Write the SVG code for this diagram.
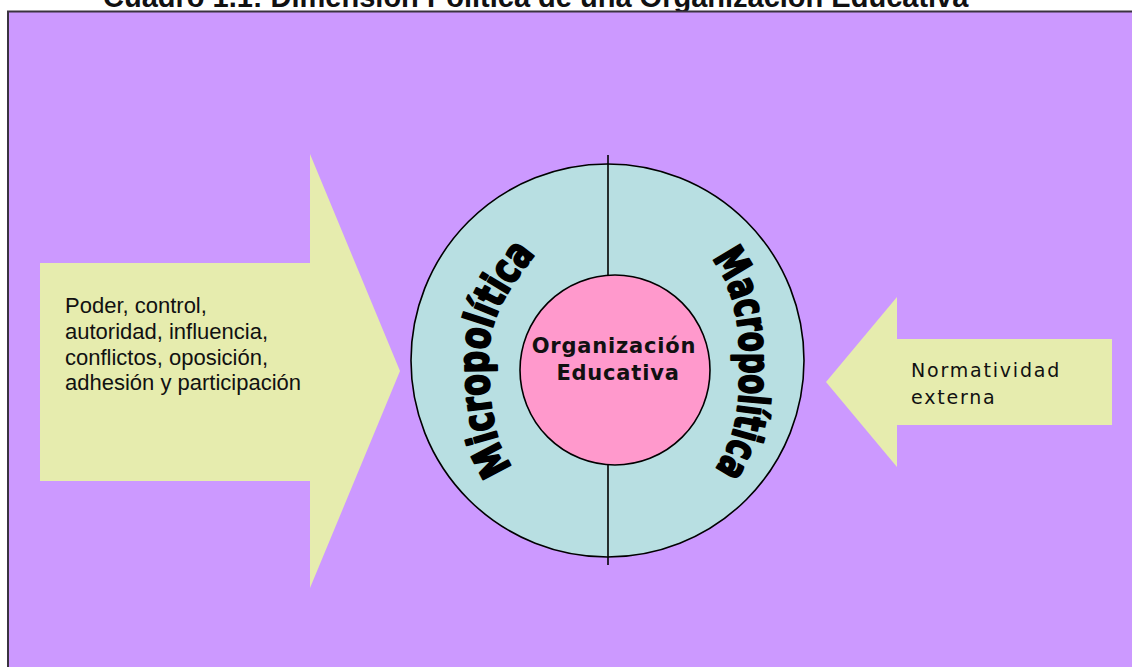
<svg xmlns="http://www.w3.org/2000/svg" width="1132" height="667" viewBox="0 0 1132 667">
  <style>
    .panel { fill: #CC99FF; stroke: #3a3340; stroke-width: 2; }
    .arrow { fill: #E6ECAE; stroke: none; }
    .ring { fill: #B8DFE2; stroke: #000; stroke-width: 1.6; }
    .core { fill: #FF99CC; stroke: #000; stroke-width: 1.6; }
    .divider { stroke: #000; stroke-width: 1.6; fill: none; }
    .title { font-family: "Liberation Sans", Arial, sans-serif; font-weight: bold; font-size: 29px; fill: #111; }
    .body { font-family: "Liberation Sans", Arial, sans-serif; font-size: 22px; fill: #111; }
    .verd { font-family: "DejaVu Sans", Verdana, sans-serif; font-size: 19px; letter-spacing: 1.8px; fill: #111; }
    .core-label { font-family: "DejaVu Sans", Verdana, sans-serif; font-weight: bold; font-size: 21px; letter-spacing: 0.8px; fill: #111; text-anchor: middle; }
    .arc-label { font-family: "DejaVu Sans", Verdana, sans-serif; font-weight: bold; font-size: 42px; fill: #000; stroke: #000; stroke-width: 2.2; stroke-linejoin: round; }
  </style>
  <defs>
    <!-- baselines of the two curved labels, glyph tops facing outward -->
    <path id="arcMicro" d="M513.5,466.5 C492.5,445.5 488,392 488,357 C488,317 512.4,281.8 538,251"/>
    <path id="arcMacro" d="M711.5,258.3 C733.5,285.6 740,322 740,364 C740,406 736,442 714,471"/>
  </defs>

  <rect width="1132" height="667" fill="#FFFFFF"/>
  <text class="title" x="103" y="7">Cuadro 1.1: Dimensión Política de una Organización Educativa</text>

  <rect id="panel" class="panel" x="8" y="11.5" width="1140" height="670"/>

  <g id="arrow-micro">
    <polygon class="arrow" points="40,263 310,263 310,154 400,371 310,588 310,481 40,481"/>
    <text class="body">
      <tspan x="65" y="313">Poder, control,</tspan>
      <tspan x="65" y="339">autoridad, influencia,</tspan>
      <tspan x="65" y="365">conflictos, oposición,</tspan>
      <tspan x="65" y="390">adhesión y participación</tspan>
    </text>
  </g>

  <g id="arrow-macro">
    <polygon class="arrow" points="826,382 897,297 897,339 1112,339 1112,425 897,425 897,467"/>
    <text class="verd">
      <tspan x="911" y="377">Normatividad</tspan>
      <tspan x="911" y="404">externa</tspan>
    </text>
  </g>

  <g id="ring">
    <circle class="ring" cx="607.5" cy="360.5" r="196.5"/>
    <line class="divider" x1="608" y1="155" x2="608" y2="565"/>
    <text class="arc-label"><textPath href="#arcMicro" textLength="230" lengthAdjust="spacingAndGlyphs">Micropolítica</textPath></text>
    <text class="arc-label"><textPath href="#arcMacro" textLength="222" lengthAdjust="spacingAndGlyphs">Macropolítica</textPath></text>
  </g>

  <g id="core">
    <circle class="core" cx="615" cy="370" r="95"/>
    <text class="core-label">
      <tspan x="618" y="353">Organización</tspan>
      <tspan x="618" y="380">Educativa</tspan>
    </text>
  </g>
</svg>
